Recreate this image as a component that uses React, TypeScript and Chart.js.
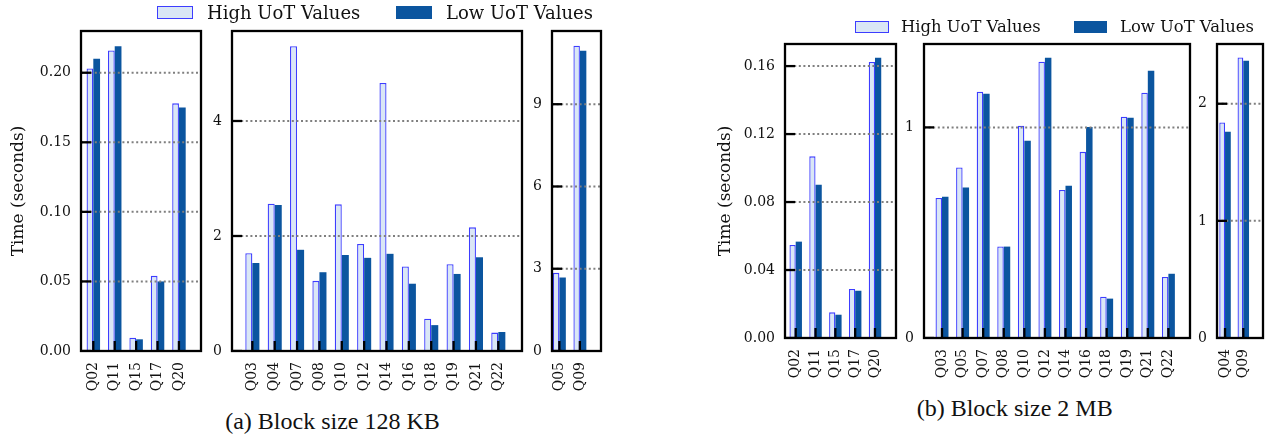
import React, { useEffect, useRef } from "react";
import { Chart, registerables } from "chart.js";

Chart.register(...registerables);

// ---------- data ----------
const catsA1 = ["Q02", "Q11", "Q15", "Q17", "Q20"];
const highA1 = [0.203, 0.216, 0.0096, 0.054, 0.178];
const lowA1 = [0.210, 0.219, 0.0084, 0.050, 0.175];
const yTicksA1 = [0, 0.05, 0.1, 0.15, 0.2];
const yLabelsA1 = ["0.00", "0.05", "0.10", "0.15", "0.20"];

const catsA2 = ["Q03", "Q04", "Q07", "Q08", "Q10", "Q12", "Q14", "Q16", "Q18", "Q19", "Q21", "Q22"];
const highA2 = [1.70, 2.56, 5.30, 1.22, 2.55, 1.86, 4.66, 1.47, 0.56, 1.51, 2.15, 0.32];
const lowA2 = [1.53, 2.54, 1.76, 1.37, 1.67, 1.62, 1.69, 1.17, 0.45, 1.34, 1.63, 0.33];
const yTicksA2 = [0, 2, 4];
const yLabelsA2 = ["0", "2", "4"];

const catsA3 = ["Q05", "Q09"];
const highA3 = [2.85, 11.13];
const lowA3 = [2.68, 10.95];
const yTicksA3 = [0, 3, 6, 9];
const yLabelsA3 = ["0", "3", "6", "9"];

const catsB1 = ["Q02", "Q11", "Q15", "Q17", "Q20"];
const highB1 = [0.0547, 0.1069, 0.0151, 0.0288, 0.1624];
const lowB1 = [0.0567, 0.0902, 0.0137, 0.0278, 0.1649];
const yTicksB1 = [0, 0.04, 0.08, 0.12, 0.16];
const yLabelsB1 = ["0.00", "0.04", "0.08", "0.12", "0.16"];

const catsB2 = ["Q03", "Q05", "Q07", "Q08", "Q10", "Q12", "Q14", "Q16", "Q18", "Q19", "Q21", "Q22"];
const highB2 = [0.665, 0.810, 1.169, 0.435, 1.008, 1.312, 0.703, 0.884, 0.196, 1.051, 1.165, 0.290];
const lowB2 = [0.671, 0.715, 1.160, 0.434, 0.937, 1.331, 0.723, 1.002, 0.187, 1.046, 1.269, 0.305];
const yTicksB2 = [0, 1];
const yLabelsB2 = ["0", "1"];

const catsB3 = ["Q04", "Q09"];
const highB3 = [1.84, 2.395];
const lowB3 = [1.76, 2.367];
const yTicksB3 = [0, 1, 2];
const yLabelsB3 = ["0", "1", "2"];

const seriesNames = ["High UoT Values", "Low UoT Values"];
const yTitle = "Time (seconds)";
const captionA = "(a) Block size 128 KB";
const captionB = "(b) Block size 2 MB";

// ---------- style ----------
const HIGH_FILL = "#dae7f5";
const HIGH_BORDER = "#3d3dff";
const LOW_FILL = "#0b559f";
const FONT = "DejaVu Serif";
const X_AXIS_H = 50;
const PAD_TOP = 10;
const PAD_RIGHT = 6;

type Panel = {
  key: string;
  cats: string[];
  high: number[];
  low: number[];
  yTicks: number[];
  yLabels: string[];
  yMax: number;
  xMin: number;
  xMax: number;
  l: number;
  r: number;
  t: number;
  b: number;
  yW: number;
  titlePad?: number;
};

const PANELS: Panel[] = [
  { key: "a1", cats: catsA1, high: highA1, low: lowA1, yTicks: yTicksA1, yLabels: yLabelsA1, yMax: 0.23, xMin: -0.575, xMax: 5.03, l: 81, r: 201, t: 31, b: 351, yW: 81, titlePad: 8 },
  { key: "a2", cats: catsA2, high: highA2, low: lowA2, yTicks: yTicksA2, yLabels: yLabelsA2, yMax: 5.565, xMin: -0.91, xMax: 12.06, l: 232, r: 522, t: 31, b: 351, yW: 40 },
  { key: "a3", cats: catsA3, high: highA3, low: lowA3, yTicks: yTicksA3, yLabels: yLabelsA3, yMax: 11.67, xMin: -0.36, xMax: 2.03, l: 552, r: 601, t: 31, b: 351, yW: 30 },
  { key: "b1", cats: catsB1, high: highB1, low: lowB1, yTicks: yTicksB1, yLabels: yLabelsB1, yMax: 0.173, xMin: -0.54, xMax: 5.06, l: 785, r: 896, t: 44, b: 338, yW: 85, titlePad: 15 },
  { key: "b2", cats: catsB2, high: highB2, low: lowB2, yTicks: yTicksB2, yLabels: yLabelsB2, yMax: 1.396, xMin: -0.875, xMax: 12.05, l: 924, r: 1190, t: 44, b: 338, yW: 40 },
  { key: "b3", cats: catsB3, high: highB3, low: lowB3, yTicks: yTicksB3, yLabels: yLabelsB3, yMax: 2.51, xMin: -0.44, xMax: 2.08, l: 1217, r: 1263, t: 44, b: 338, yW: 30 },
];

const frameTicksPlugin = {
  id: "frameTicks",
  afterDatasetsDraw(chart: any) {
    const { ctx, chartArea: a, scales } = chart;
    const ys = scales.y;
    const xs = scales.x;
    ctx.save();
    // dotted horizontal grid
    ctx.beginPath();
    ctx.rect(a.left, a.top, a.right - a.left, a.bottom - a.top);
    ctx.clip();
    ctx.strokeStyle = "#7f7f7f";
    ctx.lineWidth = 2;
    ctx.setLineDash([2, 2.6]);
    ys.ticks.forEach((t: any) => {
      const y = ys.getPixelForValue(t.value);
      if (Math.abs(y - a.bottom) < 1) return;
      ctx.beginPath();
      ctx.moveTo(a.left, y);
      ctx.lineTo(a.right, y);
      ctx.stroke();
    });
    ctx.setLineDash([]);
    ctx.strokeStyle = "#000";
    ctx.lineWidth = 2.3;
    // inward y ticks
    ys.ticks.forEach((t: any) => {
      const y = ys.getPixelForValue(t.value);
      ctx.beginPath();
      ctx.moveTo(a.left, y);
      ctx.lineTo(a.left + 10, y);
      ctx.stroke();
    });
    // inward x ticks
    xs.ticks.forEach((t: any) => {
      const x = xs.getPixelForValue(t.value);
      ctx.beginPath();
      ctx.moveTo(x, a.bottom);
      ctx.lineTo(x, a.bottom - 10);
      ctx.stroke();
    });
    ctx.restore();
    ctx.save();
    ctx.strokeStyle = "#000";
    ctx.lineWidth = 2.3;
    ctx.strokeRect(a.left, a.top, a.right - a.left, a.bottom - a.top);
    ctx.restore();
  },
};

function geom(p: Panel) {
  const left = p.l - p.yW;
  const top = p.t - PAD_TOP;
  const width = p.r - left + PAD_RIGHT;
  const height = p.b - top + X_AXIS_H;
  return { left, top, width, height };
}

function PanelChart({ p }: { p: Panel }) {
  const ref = useRef<HTMLCanvasElement | null>(null);
  const g = geom(p);
  useEffect(() => {
    if (!ref.current) return;
    const zeroPad = (s: any) => {
      s.paddingLeft = 0;
      s.paddingRight = 0;
      s.paddingTop = 0;
      s.paddingBottom = 0;
    };
    const chart = new Chart(ref.current, {
      type: "bar",
      data: {
        datasets: [
          {
            label: seriesNames[0],
            data: p.high.map((y, i) => ({ x: i, y })),
            backgroundColor: HIGH_FILL,
            borderColor: HIGH_BORDER,
            borderWidth: 1.3,
            categoryPercentage: 0.63,
            barPercentage: 1,
          } as any,
          {
            label: seriesNames[1],
            data: p.low.map((y, i) => ({ x: i, y })),
            backgroundColor: LOW_FILL,
            borderWidth: 0,
            categoryPercentage: 0.63,
            barPercentage: 1,
          } as any,
        ],
      },
      options: {
        responsive: false,
        animation: false,
        devicePixelRatio: 1,
        layout: { padding: { top: PAD_TOP, right: PAD_RIGHT, left: 0, bottom: 0 } },
        plugins: { legend: { display: false }, tooltip: { enabled: false } },
        scales: {
          x: {
            type: "linear",
            min: p.xMin,
            max: p.xMax,
            offset: false,
            grid: { display: false, drawTicks: false },
            border: { display: false },
            afterBuildTicks: (s: any) => {
              s.ticks = p.cats.map((_, i) => ({ value: i }));
            },
            afterFit: (s: any) => {
              s.height = X_AXIS_H;
              zeroPad(s);
            },
            ticks: {
              autoSkip: false,
              minRotation: 90,
              maxRotation: 90,
              padding: 11,
              color: "#111",
              font: { family: FONT, size: 14 },
              callback: (_v: any, i: number) => p.cats[i],
            },
          },
          y: {
            type: "linear",
            min: 0,
            max: p.yMax,
            grid: { display: false, drawTicks: false },
            border: { display: false },
            afterBuildTicks: (s: any) => {
              s.ticks = p.yTicks.map((v) => ({ value: v }));
            },
            afterFit: (s: any) => {
              s.width = p.yW;
              zeroPad(s);
            },
            ticks: {
              padding: 10,
              color: "#111",
              font: { family: FONT, size: 14 },
              callback: (_v: any, i: number) => p.yLabels[i],
            },
            title: {
              display: p.titlePad !== undefined,
              text: yTitle,
              color: "#111",
              font: { family: FONT, size: 17 },
              padding: { top: p.titlePad ?? 4, bottom: 0 },
            },
          },
        },
      } as any,
      plugins: [frameTicksPlugin],
    });
    return () => chart.destroy();
  }, []);
  return (
    <canvas
      ref={ref}
      width={g.width}
      height={g.height}
      style={{ position: "absolute", left: g.left, top: g.top, width: g.width, height: g.height }}
    />
  );
}

function LegendItem({ x, y, w, h, fill, border, textX, text, size }: any) {
  return (
    <>
      <div
        style={{
          position: "absolute",
          left: x,
          top: y - h / 2,
          width: w,
          height: h,
          boxSizing: "border-box",
          background: fill,
          border: border ? `1.5px solid ${border}` : "none",
        }}
      />
      <div
        style={{
          position: "absolute",
          left: textX,
          top: y - 11,
          height: 22,
          lineHeight: "22px",
          fontFamily: FONT,
          fontSize: size,
          color: "#111",
          whiteSpace: "nowrap",
        }}
      >
        {text}
      </div>
    </>
  );
}

function Caption({ cx, cy, text }: any) {
  return (
    <div
      style={{
        position: "absolute",
        left: cx - 200,
        width: 400,
        top: cy - 14,
        height: 28,
        lineHeight: "28px",
        textAlign: "center",
        fontFamily: "Liberation Serif",
        fontSize: 24,
        color: "#111",
        whiteSpace: "nowrap",
      }}
    >
      {text}
    </div>
  );
}

export default function App() {
  return (
    <div
      style={{
        position: "absolute",
        left: 0,
        top: 0,
        width: 1266,
        height: 438,
        background: "#fff",
        overflow: "hidden",
      }}
    >
      {PANELS.map((p) => (
        <PanelChart key={p.key} p={p} />
      ))}
      <LegendItem x={157} y={12.7} w={36} h={13} fill={HIGH_FILL} border={HIGH_BORDER} textX={207} text={seriesNames[0]} size={18} />
      <LegendItem x={396} y={12.7} w={36} h={13} fill={LOW_FILL} textX={446} text={seriesNames[1]} size={18} />
      <LegendItem x={855} y={27} w={34} h={12} fill={HIGH_FILL} border={HIGH_BORDER} textX={901} text={seriesNames[0]} size={16.4} />
      <LegendItem x={1074} y={27} w={33} h={12} fill={LOW_FILL} textX={1120} text={seriesNames[1]} size={16.4} />
      <Caption cx={332.5} cy={421} text={captionA} />
      <Caption cx={1014.7} cy={408} text={captionB} />
    </div>
  );
}
